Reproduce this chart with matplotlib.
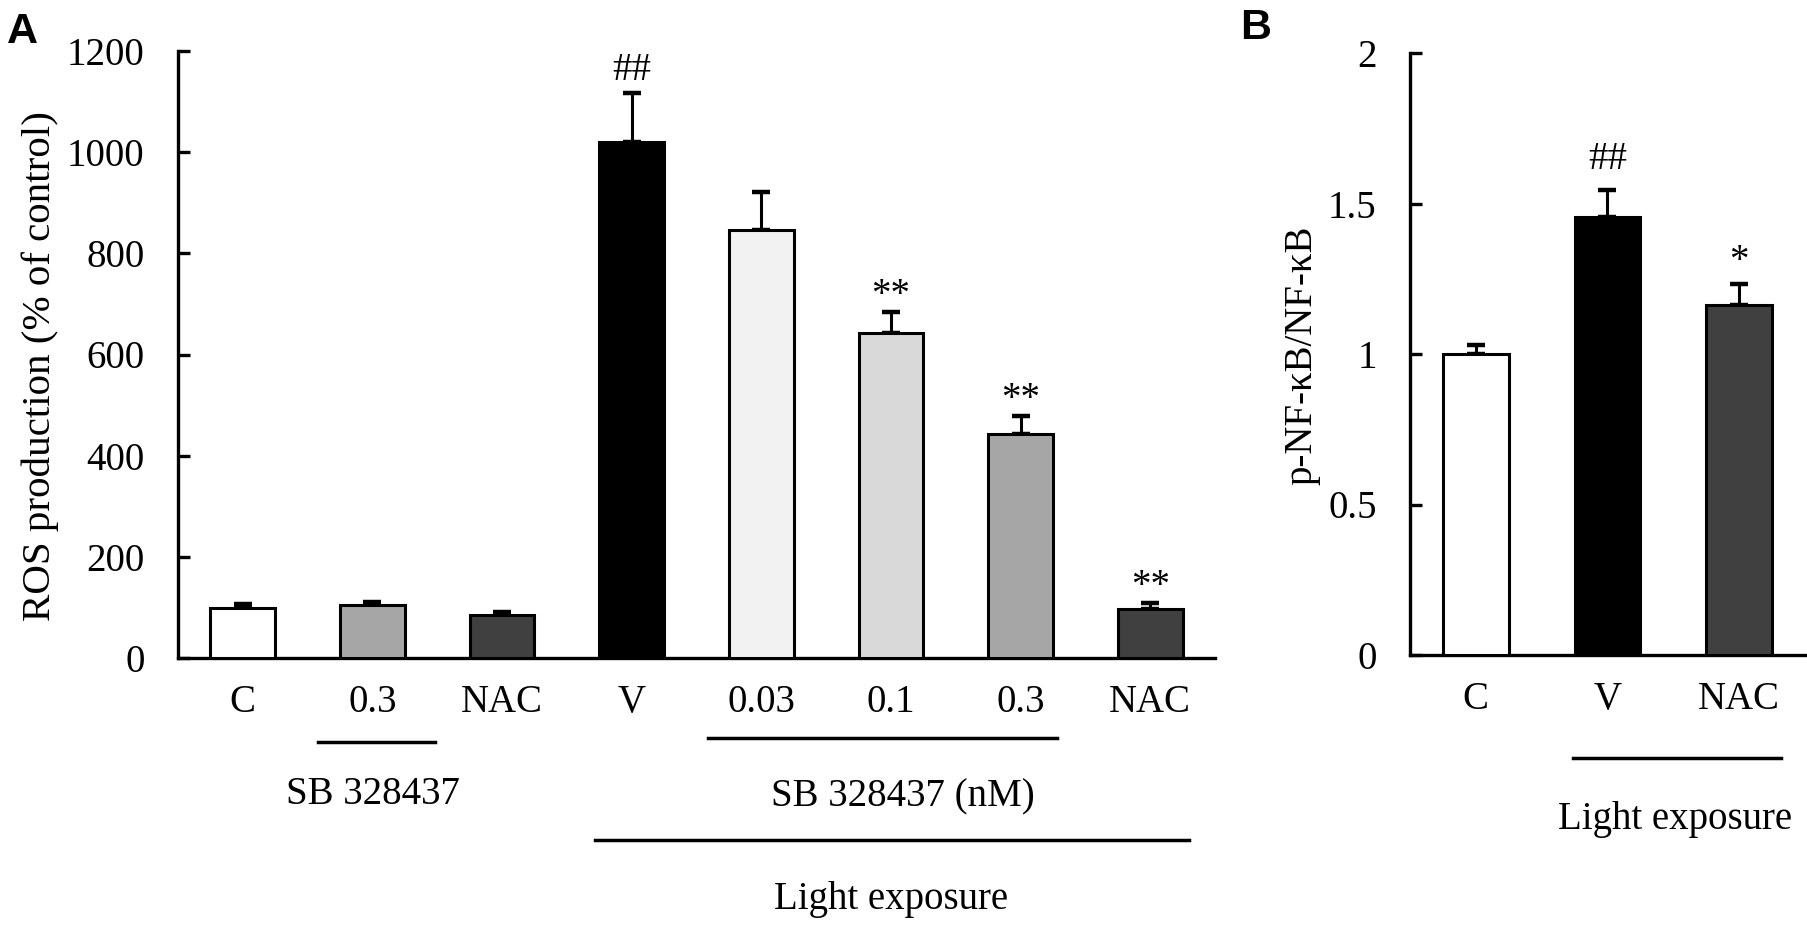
import matplotlib
matplotlib.use("Agg")
import matplotlib.pyplot as plt
import matplotlib.transforms as mtransforms
import numpy as np

plt.rcParams['font.family'] = ['Liberation Serif', 'DejaVu Serif']

# Panel A: ROS production
labels_a = ["C", "0.3", "NAC", "V", "0.03", "0.1", "0.3", "NAC"]
ros_mean = [99, 105, 85, 1020, 847, 642, 442, 96]
ros_sem = [8, 6, 6, 97, 75, 42, 36, 12]
colors_a = ["white", "#a6a6a6", "#404040", "black", "#f2f2f2", "#d9d9d9", "#a6a6a6", "#404040"]
marks_a = ["", "", "", "##", "", "**", "**", "**"]

# Panel B: p-NF-kB / NF-kB
labels_b = ["C", "V", "NAC"]
nfkb_mean = [1.0, 1.455, 1.163]
nfkb_sem = [0.03, 0.09, 0.07]
colors_b = ["white", "black", "#404040"]
marks_b = ["", "##", "*"]

W, H = 1807, 926
fig = plt.figure(figsize=(W / 100, H / 100), dpi=100)

FS = 28
LW = 2.4


def fy(px):
    # figure fraction from pixel row (top = 0)
    return 1 - px / H


def style(ax):
    for s in ["top", "right"]:
        ax.spines[s].set_visible(False)
    for s in ["left", "bottom"]:
        ax.spines[s].set_linewidth(LW)
    ax.tick_params(axis="y", direction="in", length=8.5, width=LW, labelsize=FS, pad=24)
    ax.tick_params(axis="x", length=0, labelsize=FS, pad=19)


def draw_bars(ax, means, sems, colors, marks, offsets):
    x = np.arange(len(means))
    ax.bar(x, means, width=0.5, color=colors, edgecolor="black", linewidth=2.2, zorder=3)
    ax.errorbar(x, means, yerr=[np.zeros(len(sems)), sems], fmt="none", ecolor="black",
                elinewidth=2.2, capsize=6.5, capthick=3.2, zorder=2)
    for xi, m, s, t in zip(x, means, sems, marks):
        if t:
            off = offsets[0] if t.startswith("#") else offsets[1]
            ax.text(xi, m + s + off, t, ha="center", va="center", fontsize=FS)
    return x


# ---- Panel A
axA = fig.add_axes([178 / W, fy(658), (1215 - 178) / W, (658 - 51) / H])
style(axA)
xa = draw_bars(axA, ros_mean, ros_sem, colors_a, marks_a, (45, 33))
axA.set_xlim(-0.5, 7.5)
axA.set_ylim(0, 1200)
axA.set_yticks(np.arange(0, 1201, 200))
axA.set_xticks(xa)
axA.set_xticklabels(labels_a)
fig.text(40 / W, fy(366), "ROS production (% of control)", rotation=90,
         ha="center", va="center", fontsize=FS + 1.5)

trA = mtransforms.blended_transform_factory(axA.transData, fig.transFigure)
axA.plot([0.58, 1.48], [fy(742)] * 2, color="black", lw=2.5, transform=trA, clip_on=False)
axA.plot([3.59, 6.28], [fy(738)] * 2, color="black", lw=2.5, transform=trA, clip_on=False)
axA.plot([2.72, 7.30], [fy(840)] * 2, color="black", lw=2.5, transform=trA, clip_on=False)
axA.text(1.0, fy(795), "SB 328437", ha="center", va="center", fontsize=FS, transform=trA)
axA.text(5.09, fy(797), "SB 328437 (nM)", ha="center", va="center", fontsize=FS, transform=trA)
axA.text(5.0, fy(900), "Light exposure", ha="center", va="center", fontsize=FS, transform=trA)

# ---- Panel B
axB = fig.add_axes([1410 / W, fy(655), (1805 - 1410) / W, (655 - 53) / H])
style(axB)
xb = draw_bars(axB, nfkb_mean, nfkb_sem, colors_b, marks_b, (0.10, 0.075))
axB.set_xlim(-0.5, 2.5)
axB.set_ylim(0, 2)
axB.set_yticks([0, 0.5, 1, 1.5, 2])
axB.set_yticklabels(["0", "0.5", "1", "1.5", "2"])
axB.set_xticks(xb)
axB.set_xticklabels(labels_b)
fig.text(1302 / W, fy(355), "p-NF-κB/NF-κB", rotation=90,
         ha="center", va="center", fontsize=FS)

trB = mtransforms.blended_transform_factory(axB.transData, fig.transFigure)
axB.plot([0.74, 2.32], [fy(758)] * 2, color="black", lw=2.5, transform=trB, clip_on=False)
axB.text(1.51, fy(820), "Light exposure", ha="center", va="center", fontsize=FS, transform=trB)

# panel letters
fig.text(7 / W, fy(12), "A", ha="left", va="top", fontsize=31, fontweight="bold",
         family=["Liberation Sans", "DejaVu Sans"])
fig.text(1240 / W, fy(8), "B", ha="left", va="top", fontsize=31, fontweight="bold",
         family=["Liberation Sans", "DejaVu Sans"])

fig.savefig("out.png", dpi=100)
